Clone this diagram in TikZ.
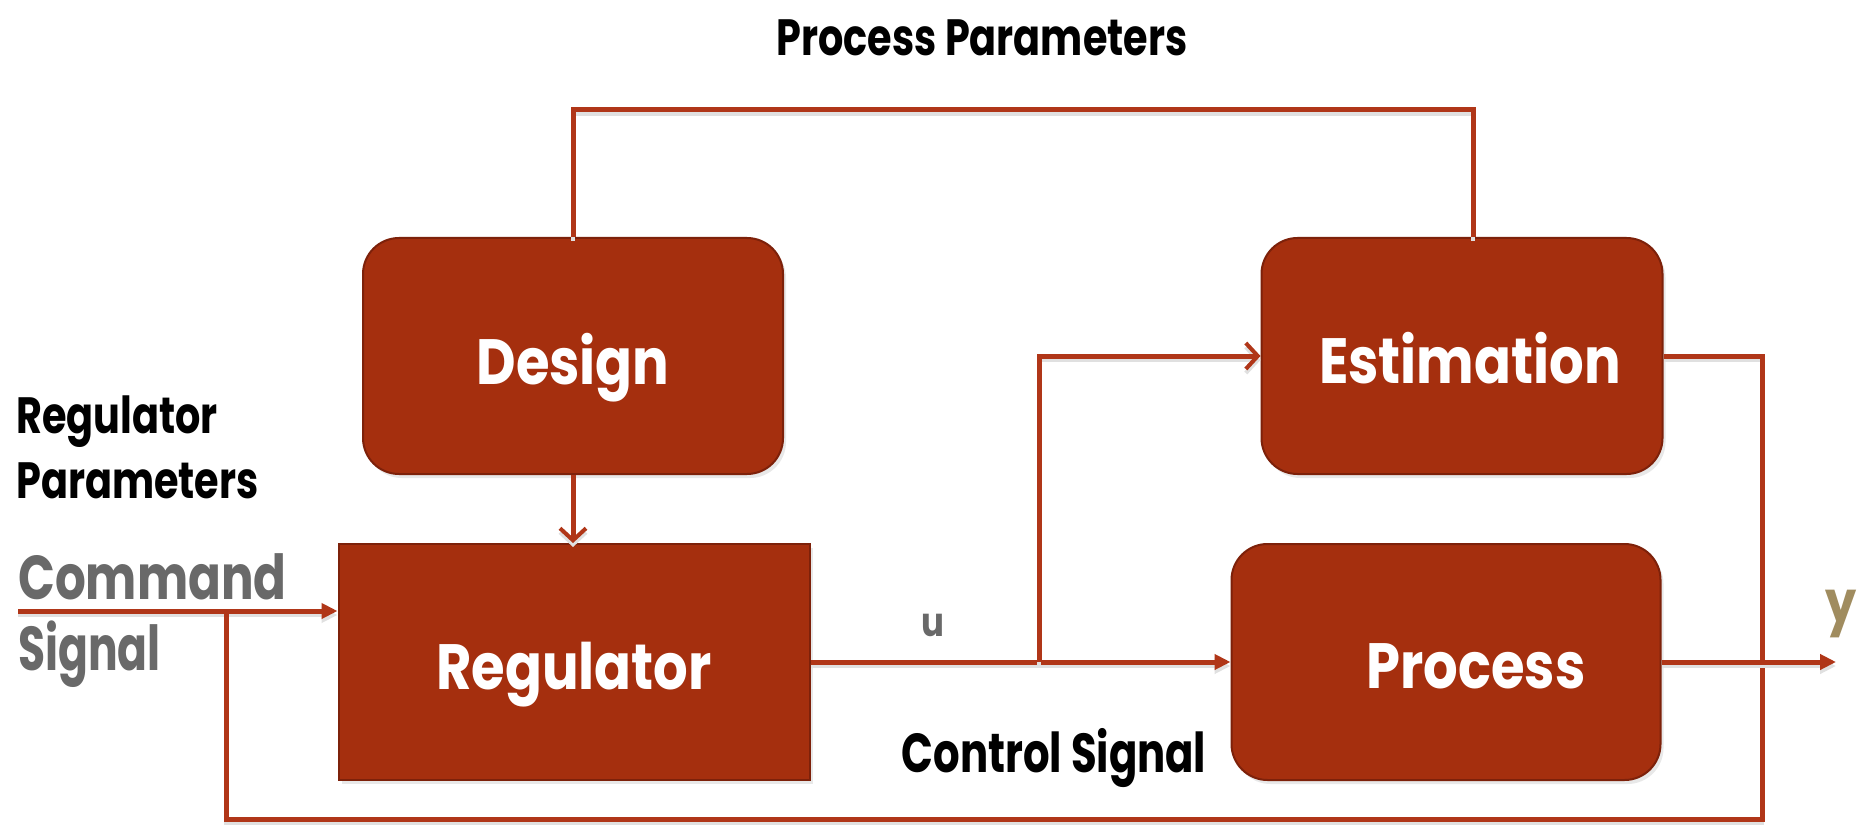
\documentclass[tikz,border=0pt]{standalone}
\usepackage{fontspec}
\setmainfont{Poppins}
\newfontfamily\geo[FakeStretch=0.85]{Poppins}
\newfontfamily\geonarrow[FakeStretch=0.78]{Poppins}
\newfontfamily\geotight[FakeStretch=0.76]{Poppins}
\newfontfamily\geoslim[FakeStretch=0.71]{Poppins}
\usetikzlibrary{arrows.meta,shadows,calc}

\definecolor{boxfill}{RGB}{165,47,14}
\definecolor{boxedge}{RGB}{125,33,10}
\definecolor{wire}{RGB}{176,54,24}
\definecolor{signalgray}{RGB}{105,105,105}
\definecolor{outtan}{RGB}{160,140,95}

% shift the ink of a box down without changing its declared size
\newcommand{\lowered}[2]{\raisebox{-#1}[\height][\depth]{#2}}

\tikzset{
  block/.style={fill=boxfill, draw=boxedge, line width=2pt,
    text=white, font=\geo\bfseries\fontsize{64}{70}\selectfont,
    inner sep=0pt, drop shadow={opacity=0.18, shadow xshift=3pt, shadow yshift=-4pt}},
  roundblock/.style={block, rounded corners=36pt},
  conn/.style={draw=wire, line width=5pt,
    preaction={draw=black!12, line width=4pt, transform canvas={yshift=-4pt}}},
  tri/.style={-{Triangle[length=16pt,width=15pt]}},
  chev/.style={-{Straight Barb[length=12pt,width=26pt,line width=4pt]}},
  blacklabel/.style={text=black, font=\geonarrow\bfseries\fontsize{51}{56}\selectfont, inner sep=0pt},
  graylabel/.style={text=signalgray, font=\geonarrow\bfseries\fontsize{62}{66}\selectfont, inner sep=0pt}
}

\begin{document}
\begin{tikzpicture}[x=1pt,y=-1pt]
\useasboundingbox (0,0) rectangle (1867,826);
\fill[white] (0,0) rectangle (1867,826);

% blocks
\node[roundblock, minimum width=420pt, minimum height=236pt] (design) at (573,356) {\lowered{12pt}{Design}};
\node[roundblock, minimum width=401pt, minimum height=236pt] (est) at (1462,356) {\hspace*{16pt}\lowered{2pt}{Estimation}};
\node[block, minimum width=471pt, minimum height=236pt] (reg) at (574,662) {\lowered{13pt}{Regulator}};
\node[roundblock, minimum width=429pt, minimum height=236pt] (proc) at (1446,662) {\hspace*{60pt}\lowered{4pt}{Process}};

% connection points
\coordinate (cmdstart) at (18,611);
\coordinate (topR) at (1473,110);
\coordinate (branch) at (1039,662);
\coordinate (fbR) at (1762,819);
\coordinate (fbL) at (226,819);
\coordinate (yout) at (1836,662);

% connectors
\draw[conn] (design.north) |- (topR) -- (topR |- est.north);
\draw[conn, chev] (design.south) -- (design.south |- reg.north);
\draw[conn, tri] (cmdstart) -- (reg.west |- cmdstart);
\draw[conn] (fbL |- cmdstart) -- (fbL) -- (fbR) -- (fbR |- est.east) -- (est.east);
\draw[conn, tri] (reg.east) -- (proc.west);
\draw[conn, chev] (branch) |- (est.west);
\draw[conn, tri] (proc.east) -- (yout);

% labels
\node[blacklabel] (pplabel) at (982,38) {Process Parameters};
\node[blacklabel, anchor=base west] (rp1) at (16,433) {Regulator};
\node[blacklabel, anchor=base west] (rp2) at (16,498) {Parameters};
\node[graylabel, anchor=base west] (cs1) at (18,599) {Command};
\node[graylabel, font=\geoslim\bfseries\fontsize{62}{66}\selectfont, anchor=base west] (cs2) at (18,670) {Signal};
\node[blacklabel, font=\geotight\bfseries\fontsize{55}{60}\selectfont, anchor=base] (ctl) at (1054,772) {Control Signal};
\node[graylabel, font=\geo\bfseries\fontsize{40}{44}\selectfont, anchor=base] (ulabel) at (933,636) {u};
\node[graylabel, text=outtan, font=\geo\bfseries\fontsize{58}{60}\selectfont, anchor=base] (ylabel) at (1841,622) {y};
\end{tikzpicture}
\end{document}
